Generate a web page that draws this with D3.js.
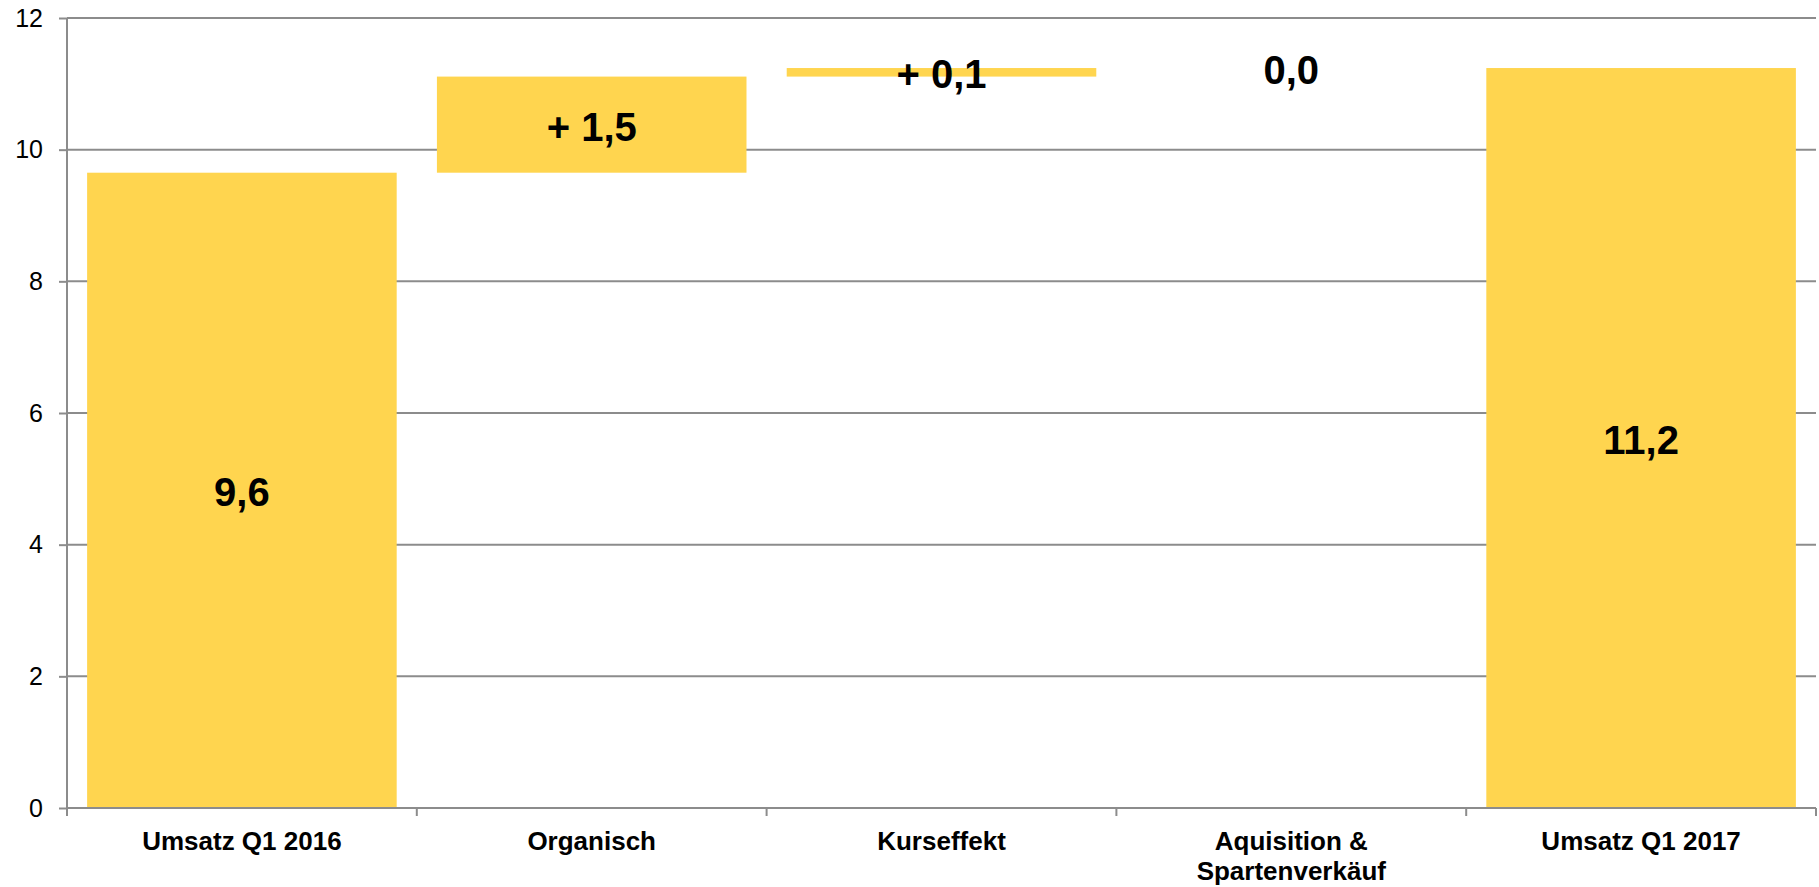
<!DOCTYPE html>
<html>
<head>
<meta charset="utf-8">
<script src="https://cdn.jsdelivr.net/npm/d3@7"></script>
<style>
  html, body { margin: 0; padding: 0; background: #ffffff; }
  svg { display: block; font-family: "Liberation Sans", Arial, sans-serif; }
</style>
</head>
<body>
<svg id="chart" width="1819" height="887"></svg>
<script>
// ---- data ----
const categories = ["Umsatz Q1 2016", "Organisch", "Kurseffekt", "Aquisition & Spartenverkäuf", "Umsatz Q1 2017"];
const categoryLines = [["Umsatz Q1 2016"], ["Organisch"], ["Kurseffekt"], ["Aquisition &", "Spartenverkäuf"], ["Umsatz Q1 2017"]];
const startValue = 9.65;
const deltas = [1.46, 0.13, 0.0];
const endValue = 11.24;
const valueLabels = ["9,6", "+ 1,5", "+ 0,1", "0,0", "11,2"];
const yTicks = [0, 2, 4, 6, 8, 10, 12];

(function () {
// ---- build waterfall segments ----
const segments = [];
segments.push({ cat: categories[0], y0: 0, y1: startValue });
let run = startValue;
deltas.forEach((d, i) => {
  segments.push({ cat: categories[i + 1], y0: run, y1: run + d });
  run += d;
});
segments.push({ cat: categories[4], y0: 0, y1: endValue });
segments.forEach((s, i) => s.label = valueLabels[i]);

// ---- layout ----
const svg = d3.select("#chart");
const mLeft = 67, mRight = 1816, mTop = 18, mBottom = 808;
const barColor = "#ffd54f";
const gridColor = "#8c8c8c";

const x = d3.scaleBand().domain(categories).range([mLeft, mRight]).paddingInner(0.115).paddingOuter(0.0575);
const y = d3.scaleLinear().domain([0, 12]).range([mBottom, mTop]);

// gridlines
svg.append("g").selectAll("line").data(yTicks.filter(t => t > 0)).join("line")
  .attr("x1", mLeft).attr("x2", mRight)
  .attr("y1", d => y(d)).attr("y2", d => y(d))
  .attr("stroke", gridColor).attr("stroke-width", 2);

// bars
svg.append("g").selectAll("rect").data(segments).join("rect")
  .attr("x", d => x(d.cat))
  .attr("width", x.bandwidth())
  .attr("y", d => y(Math.max(d.y0, d.y1)))
  .attr("height", d => Math.abs(y(d.y0) - y(d.y1)))
  .attr("fill", barColor);

// y axis
const yAxis = svg.append("g").attr("transform", `translate(${mLeft},0)`)
  .call(d3.axisLeft(y).tickValues(yTicks).tickSize(8).tickPadding(16).tickFormat(d3.format("d")));
yAxis.select(".domain").attr("stroke", gridColor).attr("stroke-width", 2)
  .attr("d", `M0,${mTop}V${mBottom + 8}`);
yAxis.selectAll(".tick line").attr("stroke", gridColor).attr("stroke-width", 2);
yAxis.selectAll(".tick text").attr("font-size", 25).attr("fill", "#000")
  .attr("font-family", "'Liberation Sans', Arial, sans-serif");

// x axis baseline and boundary ticks
const xg = svg.append("g");
xg.append("line").attr("x1", mLeft).attr("x2", mRight).attr("y1", mBottom).attr("y2", mBottom)
  .attr("stroke", gridColor).attr("stroke-width", 2);
const boundaries = categories.map(c => x(c) - x.step() * x.paddingInner() / 2).concat([mRight]);
xg.selectAll("line.b").data(boundaries).join("line").attr("class", "b")
  .attr("x1", d => d).attr("x2", d => d)
  .attr("y1", mBottom).attr("y2", mBottom + 8)
  .attr("stroke", gridColor).attr("stroke-width", 2);

// category labels
const catText = xg.selectAll("text.cat").data(categories).join("text").attr("class", "cat")
  .attr("text-anchor", "middle")
  .attr("font-size", 26).attr("font-weight", "bold").attr("fill", "#000");
catText.each(function(d, i) {
  const t = d3.select(this);
  categoryLines[i].forEach((ln, j) => {
    t.append("tspan").attr("x", x(d) + x.bandwidth() / 2).attr("y", 850 + j * 30).text(ln);
  });
});

// value labels
svg.append("g").selectAll("text").data(segments).join("text")
  .attr("x", d => x(d.cat) + x.bandwidth() / 2)
  .attr("y", d => (y(d.y0) + y(d.y1)) / 2 + 2)
  .attr("dominant-baseline", "central")
  .attr("text-anchor", "middle")
  .attr("font-size", 40).attr("font-weight", "bold").attr("fill", "#000")
  .text(d => d.label);
})();
</script>
</body>
</html>
